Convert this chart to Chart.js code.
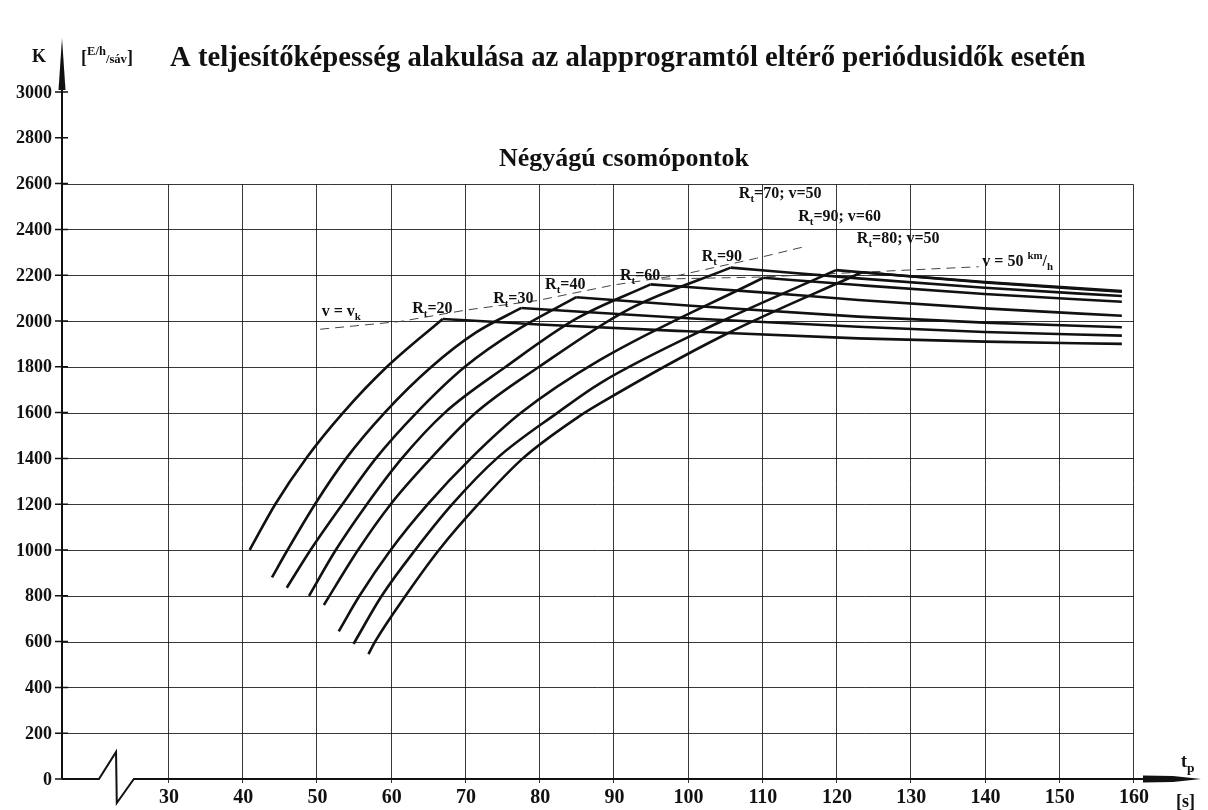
<!DOCTYPE html>
<html>
<head>
<meta charset="utf-8">
<script src="https://cdn.jsdelivr.net/npm/chart.js@4.4.1/dist/chart.umd.min.js"></script>
<style>
  html, body { margin: 0; padding: 0; background: #fff; }
  #wrap { width: 1208px; height: 810px; }
</style>
</head>
<body>
<div id="wrap"><canvas id="chart"></canvas></div>
<script>
"use strict";

// tick labels
const xTicks = [30, 40, 50, 60, 70, 80, 90, 100, 110, 120, 130, 140, 150, 160];
const yTicks = [0, 200, 400, 600, 800, 1000, 1200, 1400, 1600, 1800, 2000, 2200, 2400, 2600, 2800, 3000];
const gridTop = 2600;

// rising branches [tp, K]
const riseRt20 = [[41, 1000], [44.45, 1200], [48.6, 1400], [53.6, 1600], [59.5, 1800], [67, 2009]];
const riseRt30 = [[44, 880], [46.1, 1000], [49.8, 1200], [54, 1400], [59.2, 1600], [65.5, 1800], [71.5, 1950], [77.6, 2057]];
const riseRt40 = [[46, 835], [49.2, 1000], [53.5, 1200], [58, 1400], [63.5, 1600], [70, 1800], [77, 1960], [85, 2104]];
const riseRt60 = [[49, 800], [52.6, 1000], [56.8, 1200], [61.5, 1400], [67.3, 1600], [75.5, 1800], [85, 2010], [95, 2160]];
const riseRt90 = [[51, 760], [55.6, 1000], [60, 1200], [65.4, 1400], [71.5, 1600], [80, 1800], [92, 2050], [105.8, 2233]];
const riseRt70v50 = [[53, 645], [55.8, 800], [60, 1000], [65, 1200], [70.8, 1400], [77.6, 1600], [88.2, 1830], [110.2, 2189]];
const riseRt90v60 = [[55, 590], [58.8, 800], [63.3, 1000], [68.3, 1200], [74.3, 1400], [82.5, 1600], [88.2, 1728], [104, 1990], [120, 2222]];
const riseRt80v50 = [[57, 545], [57.9, 600], [62, 800], [66.5, 1000], [71.8, 1200], [77.8, 1400], [85, 1575], [88.2, 1640], [105, 1940], [123.5, 2213]];

// falling branches [tp, K]
const fallRt20 = [[67, 2009], [80, 1985], [100, 1955], [123, 1924], [140, 1910], [158.5, 1900]];
const fallRt30 = [[77.6, 2057], [100, 2012], [123, 1975], [140, 1952], [158.5, 1936]];
const fallRt40 = [[85, 2104], [100, 2068], [123, 2019], [140, 1993], [158.5, 1973]];
const fallRt60 = [[95, 2160], [110, 2125], [123, 2092], [140, 2055], [158.5, 2023]];
const fallRt90 = [[105.8, 2233], [123, 2186], [140, 2145], [158.5, 2109]];
const fallRt70v50 = [[110.2, 2189], [123, 2157], [140, 2118], [158.5, 2084]];
const fallRt90v60 = [[120, 2222], [140, 2170], [158.5, 2131]];
const fallRt80v50 = [[123.5, 2213], [140, 2168], [158.5, 2128]];

// dashed boundaries
const lineVk = [[50.5, 1964], [61.3, 1998], [70.2, 2048], [79.7, 2089], [90, 2157], [99, 2201], [109.3, 2274], [115.8, 2325]];
const lineV50 = [[96.5, 2183], [110, 2192], [123.5, 2213], [139.2, 2237]];

// curve notes: text and anchor [tp, K]
const noteTexts = ['v = v_{k}', 'R_{t}=20', 'R_{t}=30', 'R_{t}=40', 'R_{t}=60', 'R_{t}=90',
  'R_{t}=70; v=50', 'R_{t}=90; v=60', 'R_{t}=80; v=50', 'v = 50 ^{km}/_{h}'];
const noteAt = [[50.7, 2022], [62.9, 2035], [73.8, 2079], [80.8, 2140], [90.9, 2179], [101.9, 2262],
  [106.9, 2537], [114.9, 2437], [122.8, 2341], [139.7, 2240]];

const titleText = 'A teljesítőképesség alakulása az alapprogramtól eltérő periódusidők esetén';
const subTitleText = 'Négyágú csomópontok';

const SERIF = '"Liberation Serif", "Times New Roman", serif';
const toXY = arr => arr.map(p => ({x: p[0], y: p[1]}));

function solid(data) {
    return {
        data: toXY(data),
        borderColor: '#111',
        borderWidth: 2.6,
        pointRadius: 0,
        fill: false,
        cubicInterpolationMode: 'monotone'
    };
}
function dashed(data) {
    return {
        data: toXY(data),
        borderColor: '#444',
        borderWidth: 1,
        borderDash: [9, 6],
        pointRadius: 0,
        fill: false,
        tension: 0
    };
}

function parseRich(str) {
    const parts = [];
    const re = /([_^])\{([^}]*)\}/g;
    let last = 0, m;
    while ((m = re.exec(str))) {
        if (m.index > last) parts.push({t: str.slice(last, m.index)});
        parts.push({t: m[2], scale: 0.68, dy: m[1] === '_' ? 0.25 : -0.45});
        last = re.lastIndex;
    }
    if (last < str.length) parts.push({t: str.slice(last)});
    return parts;
}

function drawRich(ctx, parts, x, y, base) {
    let cx = x;
    parts.forEach(p => {
        const size = base * (p.scale || 1);
        ctx.font = `bold ${size}px ${SERIF}`;
        ctx.fillText(p.t, cx, y + (p.dy || 0) * base);
        cx += ctx.measureText(p.t).width;
    });
}

function fitFont(ctx, text, width) {
    ctx.font = `bold 20px ${SERIF}`;
    return 20 * width / ctx.measureText(text).width;
}

const paperPlugin = {
    id: 'paper',
    beforeDatasetsDraw(chart) {
        const {ctx, scales: {x, y}} = chart;
        const px = v => Math.round(x.getPixelForValue(v)) + 0.5;
        const py = v => Math.round(y.getPixelForValue(v)) + 0.5;
        ctx.save();
        ctx.strokeStyle = 'rgba(20,20,20,0.85)';
        ctx.lineWidth = 1;
        ctx.beginPath();
        yTicks.filter(v => v > 0 && v <= gridTop).forEach(v => {
            ctx.moveTo(x.left, py(v));
            ctx.lineTo(px(160), py(v));
        });
        xTicks.forEach(v => {
            ctx.moveTo(px(v), y.getPixelForValue(0) + 4);
            ctx.lineTo(px(v), py(gridTop));
        });
        ctx.stroke();
        ctx.restore();
    },
    afterDatasetsDraw(chart) {
        const {ctx, scales: {x, y}} = chart;
        const ax = x.left;
        const y0 = y.getPixelForValue(0);
        ctx.save();
        ctx.strokeStyle = '#111';
        ctx.fillStyle = '#111';

        // y axis with arrow
        ctx.lineWidth = 2;
        ctx.beginPath();
        ctx.moveTo(ax, y0);
        ctx.lineTo(ax, 60);
        ctx.stroke();
        ctx.beginPath();
        ctx.moveTo(ax, 38);
        ctx.lineTo(ax - 3.5, 90);
        ctx.lineTo(ax + 3.5, 90);
        ctx.closePath();
        ctx.fill();

        // x axis with break and arrow
        const b0 = x.getPixelForValue(20.7), b1 = x.getPixelForValue(23.0);
        const b2 = x.getPixelForValue(23.1), b3 = x.getPixelForValue(25.4);
        ctx.beginPath();
        ctx.moveTo(ax, y0);
        ctx.lineTo(b0, y0);
        ctx.lineTo(b1, y.getPixelForValue(118));
        ctx.lineTo(b2, y.getPixelForValue(-105));
        ctx.lineTo(b3, y0);
        ctx.lineTo(x.right + 12, y0);
        ctx.stroke();
        ctx.beginPath();
        ctx.moveTo(x.right + 10, y0 - 3.5);
        ctx.lineTo(x.right + 40, y0 - 3);
        ctx.lineTo(x.right + 68, y0);
        ctx.lineTo(x.right + 40, y0 + 3);
        ctx.lineTo(x.right + 10, y0 + 3.5);
        ctx.closePath();
        ctx.fill();

        // y ticks
        ctx.lineWidth = 1.5;
        ctx.beginPath();
        yTicks.forEach(v => {
            const yy = y.getPixelForValue(v);
            ctx.moveTo(ax - 7, yy);
            ctx.lineTo(ax + 6, yy);
        });
        ctx.stroke();
        ctx.font = `bold 18px ${SERIF}`;
        ctx.textAlign = 'right';
        ctx.textBaseline = 'middle';
        yTicks.forEach(v => ctx.fillText(String(v), ax - 10, y.getPixelForValue(v) + 1));

        // x ticks
        ctx.font = `bold 20px ${SERIF}`;
        ctx.textAlign = 'center';
        ctx.textBaseline = 'alphabetic';
        xTicks.forEach(v => ctx.fillText(String(v), x.getPixelForValue(v) + 1, y0 + 24));

        // axis names
        ctx.textAlign = 'left';
        ctx.font = `bold 18px ${SERIF}`;
        ctx.fillText('K', 32, 62);
        drawRich(ctx, [{t: '['}, {t: 'E/h', scale: 0.7, dy: -0.42}, {t: '/sáv', scale: 0.7}, {t: ']'}], 81, 63, 18);
        drawRich(ctx, [{t: 't'}, {t: 'p', scale: 0.75, dy: 0.25}], 1181, 767, 18);
        ctx.font = `bold 18px ${SERIF}`;
        ctx.fillText('[s]', 1176, 807);

        // titles
        const tSize = fitFont(ctx, titleText, 916);
        ctx.font = `bold ${tSize}px ${SERIF}`;
        ctx.fillText(titleText, 170, 66);
        const sSize = fitFont(ctx, subTitleText, 250);
        ctx.font = `bold ${sSize}px ${SERIF}`;
        ctx.textAlign = 'center';
        ctx.fillText(subTitleText, 624, 166);

        // curve notes
        ctx.textAlign = 'left';
        noteTexts.forEach((t, i) => {
            drawRich(ctx, parseRich(t), x.getPixelForValue(noteAt[i][0]), y.getPixelForValue(noteAt[i][1]), 16);
        });
        ctx.restore();
    }
};

const datasets = [
    solid(riseRt20), solid(riseRt30), solid(riseRt40), solid(riseRt60),
    solid(riseRt90), solid(riseRt70v50), solid(riseRt90v60), solid(riseRt80v50),
    solid(fallRt20), solid(fallRt30), solid(fallRt40), solid(fallRt60),
    solid(fallRt90), solid(fallRt70v50), solid(fallRt90v60), solid(fallRt80v50),
    dashed(lineVk), dashed(lineV50)
];

new Chart(document.getElementById('chart'), {
    type: 'line',
    data: {datasets: datasets},
    options: {
        responsive: true,
        maintainAspectRatio: false,
        animation: false,
        devicePixelRatio: 1,
        layout: {padding: {left: 62, right: 75, top: 92, bottom: 31}},
        scales: {
            x: {type: 'linear', min: 15.72, max: 160, display: false},
            y: {type: 'linear', min: 0, max: 3000, display: false}
        },
        plugins: {legend: {display: false}, tooltip: {enabled: false}}
    },
    plugins: [paperPlugin]
});
</script>
</body>
</html>
